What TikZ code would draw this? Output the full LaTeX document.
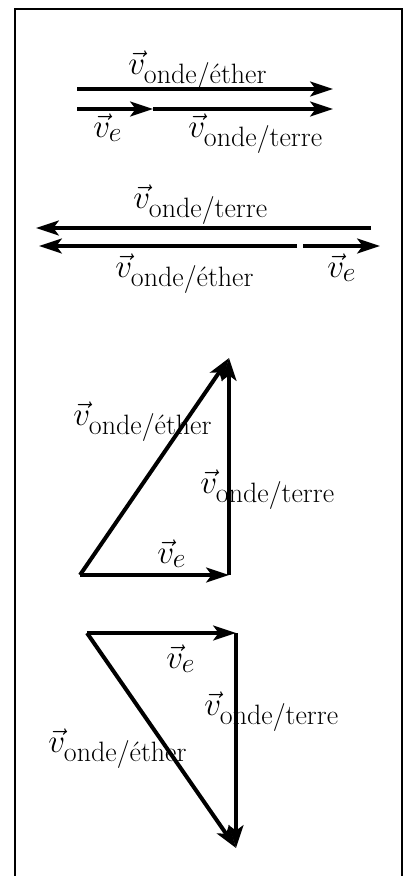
\documentclass[tikz,border=0pt]{standalone}
\usepackage{amsmath}
\usepackage{tikz}
\usetikzlibrary{arrows.meta}
\DeclareMathSizes{24}{24}{21}{15}

\begin{document}
\begin{tikzpicture}[x=0.75pt, y=-0.75pt, >={Stealth[length=17pt, width=11pt, inset=4pt]},
    vecarrow/.style={->, line width=3pt},
    vlabel/.style={anchor=base west, inner sep=0pt, font=\fontsize{24}{28}\selectfont}]
      \useasboundingbox (0,0) rectangle (406,876);
      \draw[line width=2.2pt] (15,876) -- (15,9) -- (402,9) -- (402,876);

      % row 1 and 2
      \coordinate (r1a) at (77,89);
      \coordinate (r1b) at (333,89);
      \coordinate (r2a) at (77,109);
      \coordinate (r2m) at (153,109);
      \coordinate (r2b) at (333,109);
      \draw[vecarrow] (r1a) -- (r1b);
      \draw[vecarrow] (r2a) -- (r2m);
      \draw[vecarrow] (r2m) -- (r2b);
      \node (l1) [vlabel] at (128,74) {$\vec{v}_{\text{onde/éther}}$};
      \node (l2) [vlabel] at (93,137) {$\vec{v}_{e}$};
      \node (l3) [vlabel] at (188,137) {$\vec{v}_{\text{onde/terre}}$};

      % row 3 and 4
      \coordinate (r3a) at (371,228);
      \coordinate (r3b) at (36,228);
      \coordinate (r4a) at (297,246);
      \coordinate (r4b) at (39,246);
      \coordinate (r4c) at (303,246);
      \coordinate (r4d) at (380,246);
      \draw[vecarrow] (r3a) -- (r3b);
      \draw[vecarrow] (r4a) -- (r4b);
      \draw[vecarrow] (r4c) -- (r4d);
      \node (l4) [vlabel] at (133,208) {$\vec{v}_{\text{onde/terre}}$};
      \node (l5) [vlabel] at (115,277) {$\vec{v}_{\text{onde/éther}}$};
      \node (l6) [vlabel] at (327,277) {$\vec{v}_{e}$};

      % triangle 1
      \coordinate (t1a) at (80,575);
      \coordinate (t1b) at (229,575);
      \coordinate (t1c) at (229,358);
      \draw[vecarrow] (t1a) -- (t1b);
      \draw[vecarrow] (t1b) -- (t1c);
      \draw[vecarrow] (t1a) -- (t1c);
      \node (l7) [vlabel] at (73,425) {$\vec{v}_{\text{onde/éther}}$};
      \node (l8) [vlabel] at (200,493) {$\vec{v}_{\text{onde/terre}}$};
      \node (l9) [vlabel] at (157,563) {$\vec{v}_{e}$};

      % triangle 2
      \coordinate (t2a) at (87,633);
      \coordinate (t2b) at (236,633);
      \coordinate (t2c) at (236,848);
      \draw[vecarrow] (t2a) -- (t2b);
      \draw[vecarrow] (t2b) -- (t2c);
      \draw[vecarrow] (t2a) -- (t2c);
      \node (l10) [vlabel] at (166,668) {$\vec{v}_{e}$};
      \node (l11) [vlabel] at (204,715) {$\vec{v}_{\text{onde/terre}}$};
      \node (l12) [vlabel] at (48,752) {$\vec{v}_{\text{onde/éther}}$};
\end{tikzpicture}
\end{document}
